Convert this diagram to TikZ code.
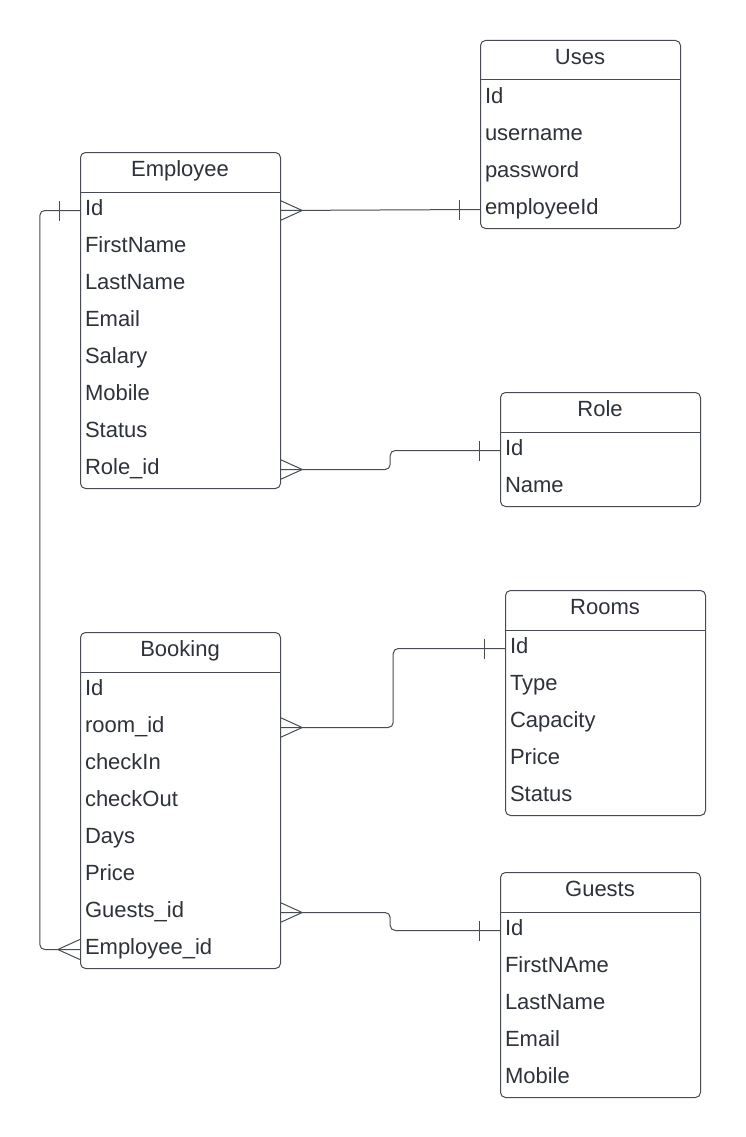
\documentclass[tikz,border=0pt]{standalone}
\usepackage{fontspec}
\setmainfont{Liberation Sans}
\usetikzlibrary{calc}
\definecolor{linec}{HTML}{474C54}
\definecolor{textc}{HTML}{2E323A}
\tikzset{
  edge/.style={draw=linec, line width=1pt},
  box/.style={draw=linec, line width=1pt, rounded corners=5pt, rectangle, minimum width=200pt, inner sep=0pt, anchor=north west},
  titletext/.style={text=textc, font=\fontsize{22}{26}\selectfont, inner sep=0pt, text height=15.75pt, text depth=6.75pt},
  rowtext/.style={text=textc, font=\fontsize{22}{26}\selectfont, inner xsep=5pt, inner ysep=0pt, text width=190pt, align=left, minimum height=37pt, text height=15.75pt, text depth=6.75pt},
  link/.style={edge, rounded corners=5pt},
}
\newcommand\entity[6]{% #1 id, #2 x, #3 top, #4 title, #5 rows count, #6 fields
  \node[box, minimum height={40+37*#5}] (#1) at (#2,#3) {};
  \node[titletext] (#1-t) at (#2+100,#3+20) {#4};
  \coordinate (#1-hl) at (#2,#3+40);
  \coordinate (#1-hr) at (#2+200,#3+40);
  \draw[edge] (#1-hl) -- (#1-hr);
  \foreach \f [count=\i] in {#6} {
    \node[rowtext] (#1-\i) at (#2+100,#3+40+37*\i-18.5) {\f};
  }
}
\newcommand\crowE[1]{% crow's foot at east anchor, pointing right
  \draw[edge] ($(#1)+(0,-10)$) -- ($(#1)+(22,0)$) -- ($(#1)+(0,10)$);}
\newcommand\crowW[1]{%
  \draw[edge] ($(#1)+(0,-10)$) -- ($(#1)+(-22,0)$) -- ($(#1)+(0,10)$);}
\newcommand\barW[1]{%
  \draw[edge] ($(#1)+(-20,-10)$) -- ($(#1)+(-20,10)$);}
\begin{document}
\begin{tikzpicture}[x=1pt,y=-1pt]
\useasboundingbox[fill=white] (0,0) rectangle (746,1137);
\entity{uses}{480}{40}{Uses}{4}{Id,username,password,employeeId}
\entity{emp}{80}{152}{Employee}{8}{Id,FirstName,LastName,Email,Salary,Mobile,Status,Role\_id}
\entity{role}{500}{392}{Role}{2}{Id,Name}
\entity{rooms}{505}{590}{Rooms}{5}{Id,Type,Capacity,Price,Status}
\entity{book}{80}{632}{Booking}{8}{Id,room\_id,checkIn,checkOut,Days,Price,Guests\_id,Employee\_id}
\entity{guests}{500}{872}{Guests}{5}{Id,FirstNAme,LastName,Email,Mobile}
% Employee -- Uses
\draw[edge] (emp-1.east) -- (uses-4.west);
\crowE{emp-1.east}
\barW{uses-4.west}
% Employee -- Role
\draw[link] (emp-8.east) -- ++(110,0) |- (role-1.west);
\crowE{emp-8.east}
\barW{role-1.west}
% Booking -- Rooms
\draw[link] (book-2.east) -- ++(113,0) |- (rooms-1.west);
\crowE{book-2.east}
\barW{rooms-1.west}
% Booking -- Guests
\draw[link] (book-7.east) -- ++(110,0) |- (guests-1.west);
\crowE{book-7.east}
\barW{guests-1.west}
% Employee -- Booking
\draw[link] (emp-1.west) -- ++(-40,0) |- (book-8.west);
\barW{emp-1.west}
\crowW{book-8.west}
\end{tikzpicture}
\end{document}
